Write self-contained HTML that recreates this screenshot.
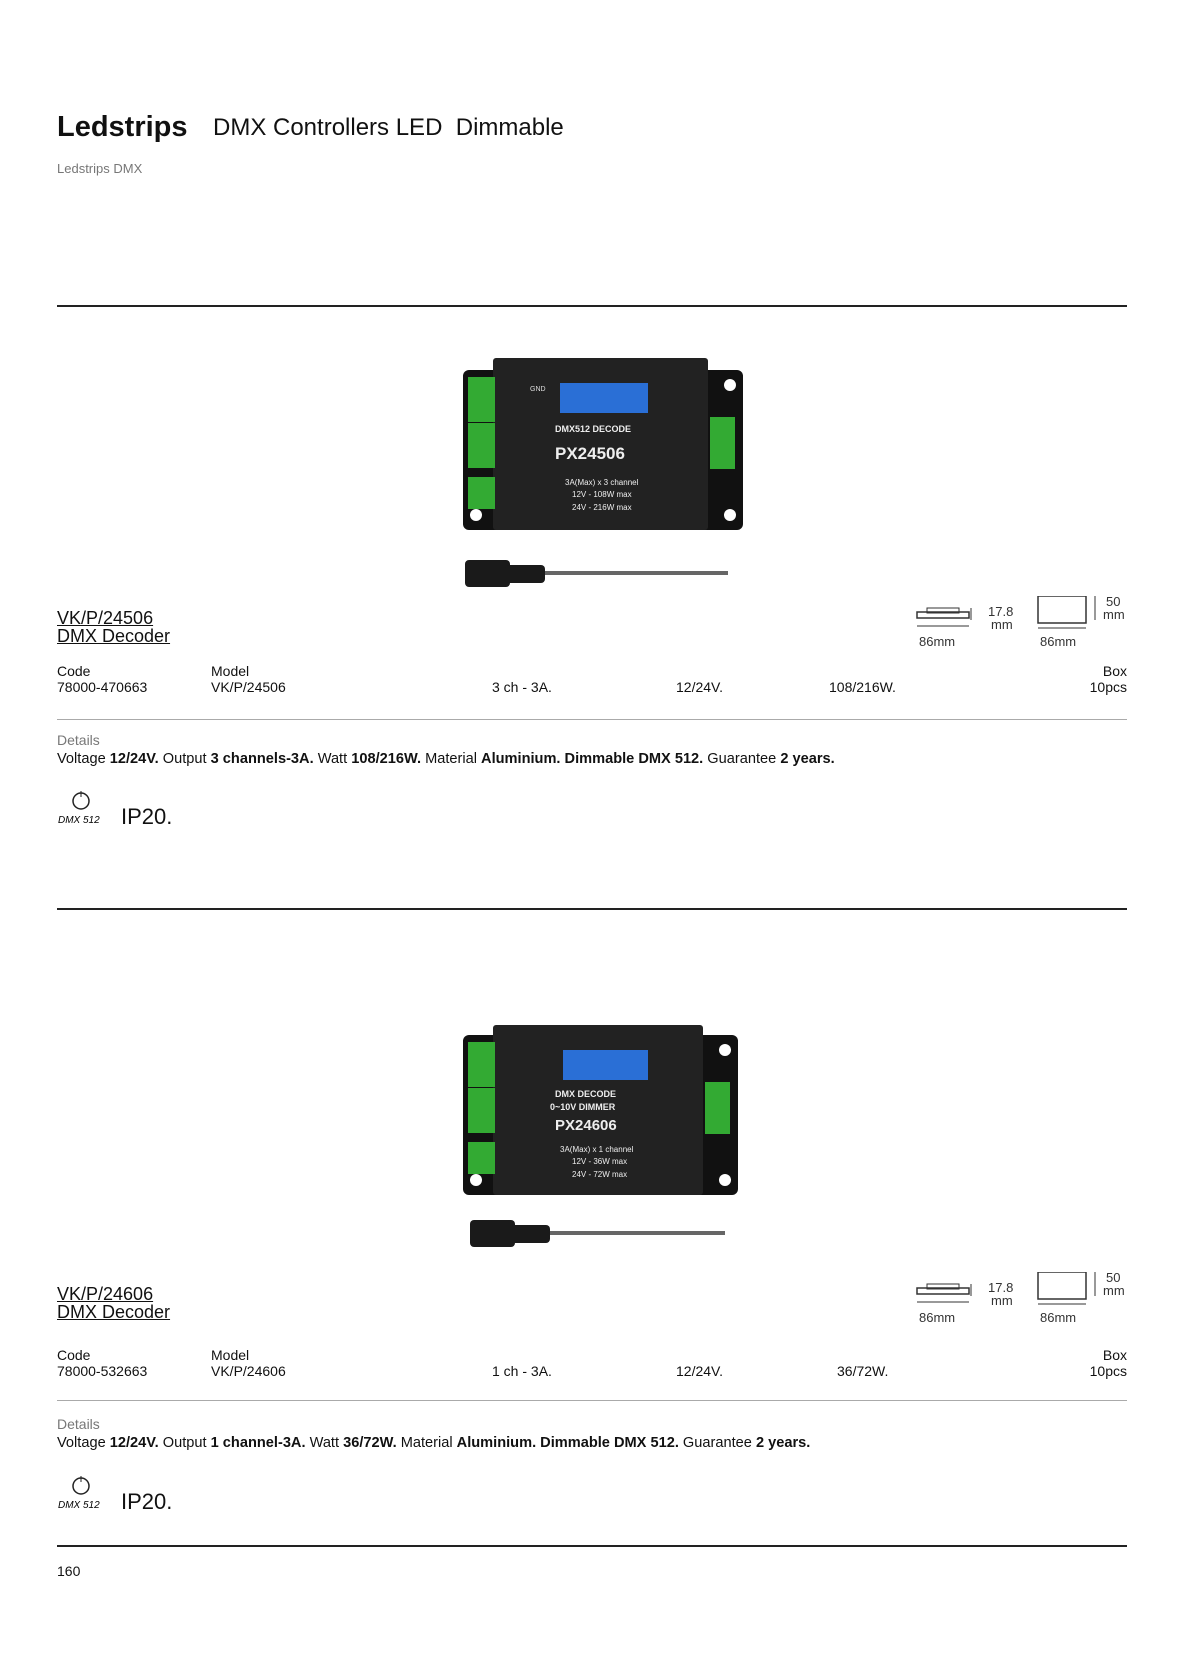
<!DOCTYPE html>
<html><head><meta charset="utf-8"><style>
body{margin:0;background:#fff;}
#p{position:relative;width:1200px;height:1657px;overflow:hidden;font-family:"Liberation Sans",sans-serif;color:#111;}
.a{position:absolute;white-space:nowrap;}
.hl{position:absolute;left:57px;width:1070px;background:#222;}
.g{color:#777;}
b{font-weight:bold;}
.u{text-decoration:underline;font-size:18px;line-height:19px;}
.sm{font-size:14px;line-height:16px;}
.dt{font-size:14.6px;line-height:16px;}
</style></head><body><div id="p">
<div class="a" style="left:57px;top:111px;font-size:29px;font-weight:bold;">Ledstrips</div>
<div class="a" style="left:213px;top:114px;font-size:24px;">DMX Controllers LED&nbsp; Dimmable</div>
<div class="a g" style="left:57px;top:161px;font-size:13px;">Ledstrips DMX</div>
<div class="hl" style="top:305px;height:2px;"></div>

<svg class="a" style="left:460px;top:355px" width="300" height="240" viewBox="0 0 300 240">
<rect x="3" y="15" width="280" height="160" rx="6" fill="#111"/>
<circle cx="16" cy="30" r="6" fill="#fff"/><circle cx="16" cy="160" r="6" fill="#fff"/>
<circle cx="270" cy="30" r="6" fill="#fff"/><circle cx="270" cy="160" r="6" fill="#fff"/>
<rect x="33" y="3" width="215" height="172" rx="3" fill="#222"/>
<rect x="8" y="22" width="27" height="45" fill="#3a3"/><rect x="8" y="68" width="27" height="45" fill="#3a3"/><rect x="8" y="122" width="27" height="32" fill="#3a3"/>
<rect x="250" y="62" width="25" height="52" fill="#3a3"/>
<rect x="100" y="28" width="88" height="30" fill="#2a6fd6"/>
<text x="70" y="36" fill="#ddd" font-size="7">GND</text>
<text x="95" y="77" fill="#eee" font-size="9" font-weight="bold">DMX512 DECODE</text>
<text x="95" y="104" fill="#eee" font-size="17" font-weight="bold">PX24506</text>
<text x="105" y="130" fill="#eee" font-size="8">3A(Max) x 3 channel</text>
<text x="112" y="142" fill="#eee" font-size="8">12V - 108W max</text>
<text x="112" y="155" fill="#eee" font-size="8">24V - 216W max</text>
<rect x="5" y="205" width="45" height="27" rx="4" fill="#1a1a1a"/><rect x="45" y="210" width="40" height="18" rx="4" fill="#1a1a1a"/>
<rect x="85" y="216" width="183" height="4" fill="#666"/>
</svg>

<div class="a u" style="left:57px;top:609px;">VK/P/24506</div>
<div class="a u" style="left:57px;top:627px;">DMX Decoder</div>
<svg class="a" style="left:911px;top:596px" width="225" height="60">
<rect x="6" y="16" width="52" height="6" fill="none" stroke="#333" stroke-width="1.5"/><rect x="16" y="12" width="32" height="5" fill="none" stroke="#333"/>
<line x1="60" y1="12" x2="60" y2="24" stroke="#333"/><line x1="6" y1="30" x2="58" y2="30" stroke="#333"/>
<rect x="127" y="0" width="48" height="27" fill="none" stroke="#333" stroke-width="1.5"/><line x1="184" y1="0" x2="184" y2="24" stroke="#333"/><line x1="127" y1="32" x2="175" y2="32" stroke="#333"/>
<text x="77" y="20" font-size="13" fill="#333" font-family="Liberation Sans">17.8</text><text x="80" y="33" font-size="13" fill="#333" font-family="Liberation Sans">mm</text>
<text x="195" y="10" font-size="13" fill="#333" font-family="Liberation Sans">50</text><text x="192" y="23" font-size="13" fill="#333" font-family="Liberation Sans">mm</text>
<text x="8" y="50" font-size="13" fill="#333" font-family="Liberation Sans">86mm</text><text x="129" y="50" font-size="13" fill="#333" font-family="Liberation Sans">86mm</text>
</svg>
<div class="a sm" style="left:57px;top:663px;">Code</div><div class="a sm" style="left:211px;top:663px;">Model</div><div class="a sm" style="right:73px;top:663px;">Box</div>
<div class="a sm" style="left:57px;top:679px;">78000-470663</div><div class="a sm" style="left:211px;top:679px;">VK/P/24506</div><div class="a sm" style="left:492px;top:679px;">3 ch - 3A.</div><div class="a sm" style="left:676px;top:679px;">12/24V.</div><div class="a sm" style="left:829px;top:679px;">108/216W.</div><div class="a sm" style="right:73px;top:679px;">10pcs</div>
<div class="hl" style="top:719px;height:1px;background:#aaa;"></div>
<div class="a sm g" style="left:57px;top:732px;">Details</div>
<div class="a dt" style="left:57px;top:751px;">Voltage <b>12/24V.</b> Output <b>3 channels-3A.</b> Watt <b>108/216W.</b> Material <b>Aluminium. Dimmable DMX 512.</b> Guarantee <b>2 years.</b></div>
<svg class="a" style="left:56px;top:783px" width="50" height="45"><circle cx="25" cy="18" r="8" fill="none" stroke="#222" stroke-width="1.5"/><line x1="25" y1="8" x2="25" y2="14" stroke="#222"/><text x="2" y="40" font-size="10" font-style="italic" font-family="Liberation Sans">DMX 512</text></svg>
<div class="a" style="left:121px;top:804px;font-size:22px;">IP20.</div>
<div class="hl" style="top:908px;height:2px;"></div>

<svg class="a" style="left:460px;top:1020px" width="300" height="240" viewBox="0 0 300 240">
<rect x="3" y="15" width="275" height="160" rx="6" fill="#111"/>
<circle cx="16" cy="30" r="6" fill="#fff"/><circle cx="16" cy="160" r="6" fill="#fff"/>
<circle cx="265" cy="30" r="6" fill="#fff"/><circle cx="265" cy="160" r="6" fill="#fff"/>
<rect x="33" y="5" width="210" height="170" rx="3" fill="#222"/>
<rect x="8" y="22" width="27" height="45" fill="#3a3"/><rect x="8" y="68" width="27" height="45" fill="#3a3"/><rect x="8" y="122" width="27" height="32" fill="#3a3"/>
<rect x="245" y="62" width="25" height="52" fill="#3a3"/>
<rect x="103" y="30" width="85" height="30" fill="#2a6fd6"/>
<text x="95" y="77" fill="#eee" font-size="9" font-weight="bold">DMX DECODE</text>
<text x="90" y="90" fill="#eee" font-size="9" font-weight="bold">0~10V DIMMER</text>
<text x="95" y="110" fill="#eee" font-size="15" font-weight="bold">PX24606</text>
<text x="100" y="132" fill="#eee" font-size="8">3A(Max) x 1 channel</text>
<text x="112" y="144" fill="#eee" font-size="8">12V - 36W max</text>
<text x="112" y="157" fill="#eee" font-size="8">24V - 72W max</text>
<rect x="10" y="200" width="45" height="27" rx="4" fill="#1a1a1a"/><rect x="50" y="205" width="40" height="18" rx="4" fill="#1a1a1a"/>
<rect x="90" y="211" width="175" height="4" fill="#666"/>
</svg>

<div class="a u" style="left:57px;top:1285px;">VK/P/24606</div>
<div class="a u" style="left:57px;top:1303px;">DMX Decoder</div>
<svg class="a" style="left:911px;top:1272px" width="225" height="60">
<rect x="6" y="16" width="52" height="6" fill="none" stroke="#333" stroke-width="1.5"/><rect x="16" y="12" width="32" height="5" fill="none" stroke="#333"/>
<line x1="60" y1="12" x2="60" y2="24" stroke="#333"/><line x1="6" y1="30" x2="58" y2="30" stroke="#333"/>
<rect x="127" y="0" width="48" height="27" fill="none" stroke="#333" stroke-width="1.5"/><line x1="184" y1="0" x2="184" y2="24" stroke="#333"/><line x1="127" y1="32" x2="175" y2="32" stroke="#333"/>
<text x="77" y="20" font-size="13" fill="#333" font-family="Liberation Sans">17.8</text><text x="80" y="33" font-size="13" fill="#333" font-family="Liberation Sans">mm</text>
<text x="195" y="10" font-size="13" fill="#333" font-family="Liberation Sans">50</text><text x="192" y="23" font-size="13" fill="#333" font-family="Liberation Sans">mm</text>
<text x="8" y="50" font-size="13" fill="#333" font-family="Liberation Sans">86mm</text><text x="129" y="50" font-size="13" fill="#333" font-family="Liberation Sans">86mm</text>
</svg>
<div class="a sm" style="left:57px;top:1347px;">Code</div><div class="a sm" style="left:211px;top:1347px;">Model</div><div class="a sm" style="right:73px;top:1347px;">Box</div>
<div class="a sm" style="left:57px;top:1363px;">78000-532663</div><div class="a sm" style="left:211px;top:1363px;">VK/P/24606</div><div class="a sm" style="left:492px;top:1363px;">1 ch - 3A.</div><div class="a sm" style="left:676px;top:1363px;">12/24V.</div><div class="a sm" style="left:837px;top:1363px;">36/72W.</div><div class="a sm" style="right:73px;top:1363px;">10pcs</div>
<div class="hl" style="top:1400px;height:1px;background:#aaa;"></div>
<div class="a sm g" style="left:57px;top:1416px;">Details</div>
<div class="a dt" style="left:57px;top:1435px;">Voltage <b>12/24V.</b> Output <b>1 channel-3A.</b> Watt <b>36/72W.</b> Material <b>Aluminium. Dimmable DMX 512.</b> Guarantee <b>2 years.</b></div>
<svg class="a" style="left:56px;top:1468px" width="50" height="45"><circle cx="25" cy="18" r="8" fill="none" stroke="#222" stroke-width="1.5"/><line x1="25" y1="8" x2="25" y2="14" stroke="#222"/><text x="2" y="40" font-size="10" font-style="italic" font-family="Liberation Sans">DMX 512</text></svg>
<div class="a" style="left:121px;top:1489px;font-size:22px;">IP20.</div>
<div class="hl" style="top:1545px;height:2px;"></div>
<div class="a sm" style="left:57px;top:1563px;">160</div>
</div></body></html>
